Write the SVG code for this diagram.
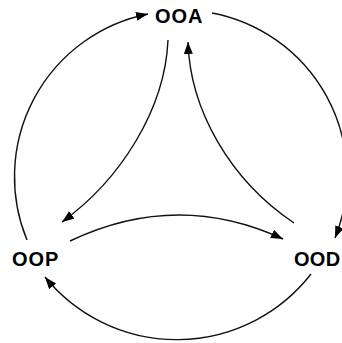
<svg xmlns="http://www.w3.org/2000/svg" width="342" height="343" viewBox="0 0 342 343">
<style>
.lbl{font-family:"Liberation Sans",Arial,sans-serif;font-weight:bold;font-size:20px;letter-spacing:1px;fill:#000}
.c{fill:none;stroke:#111;stroke-width:1.4}
</style>
<defs>
<marker id="ah" markerUnits="userSpaceOnUse" markerWidth="13" markerHeight="10" refX="12" refY="4.5" orient="auto">
<path d="M0,0 L12,4.5 L0,9 z" fill="#000"/>
</marker>
</defs>
<rect width="342" height="343" fill="#fff"/>
<g id="connectors">
<path class="c" marker-end="url(#ah)" d="M27 240 A166 166 0 0 1 148 14"/>
<path class="c" marker-end="url(#ah)" d="M212 13 A166 166 0 0 1 335 238"/>
<path class="c" marker-end="url(#ah)" d="M311 274 A170 170 0 0 1 45 277"/>
<path class="c" marker-end="url(#ah)" d="M168 40 C165 110 120 180 62 222"/>
<path class="c" marker-end="url(#ah)" d="M294 223 C230 180 190 110 188 42"/>
<path class="c" marker-end="url(#ah)" d="M70 241 Q177 190 283 239"/>
</g>
<g id="ooa"><text class="lbl" x="155" y="22.5">OOA</text></g>
<g id="oop"><text class="lbl" x="12" y="266">OOP</text></g>
<g id="ood"><text class="lbl" x="294" y="266" style="letter-spacing:0.3px">OOD</text></g>
</svg>
